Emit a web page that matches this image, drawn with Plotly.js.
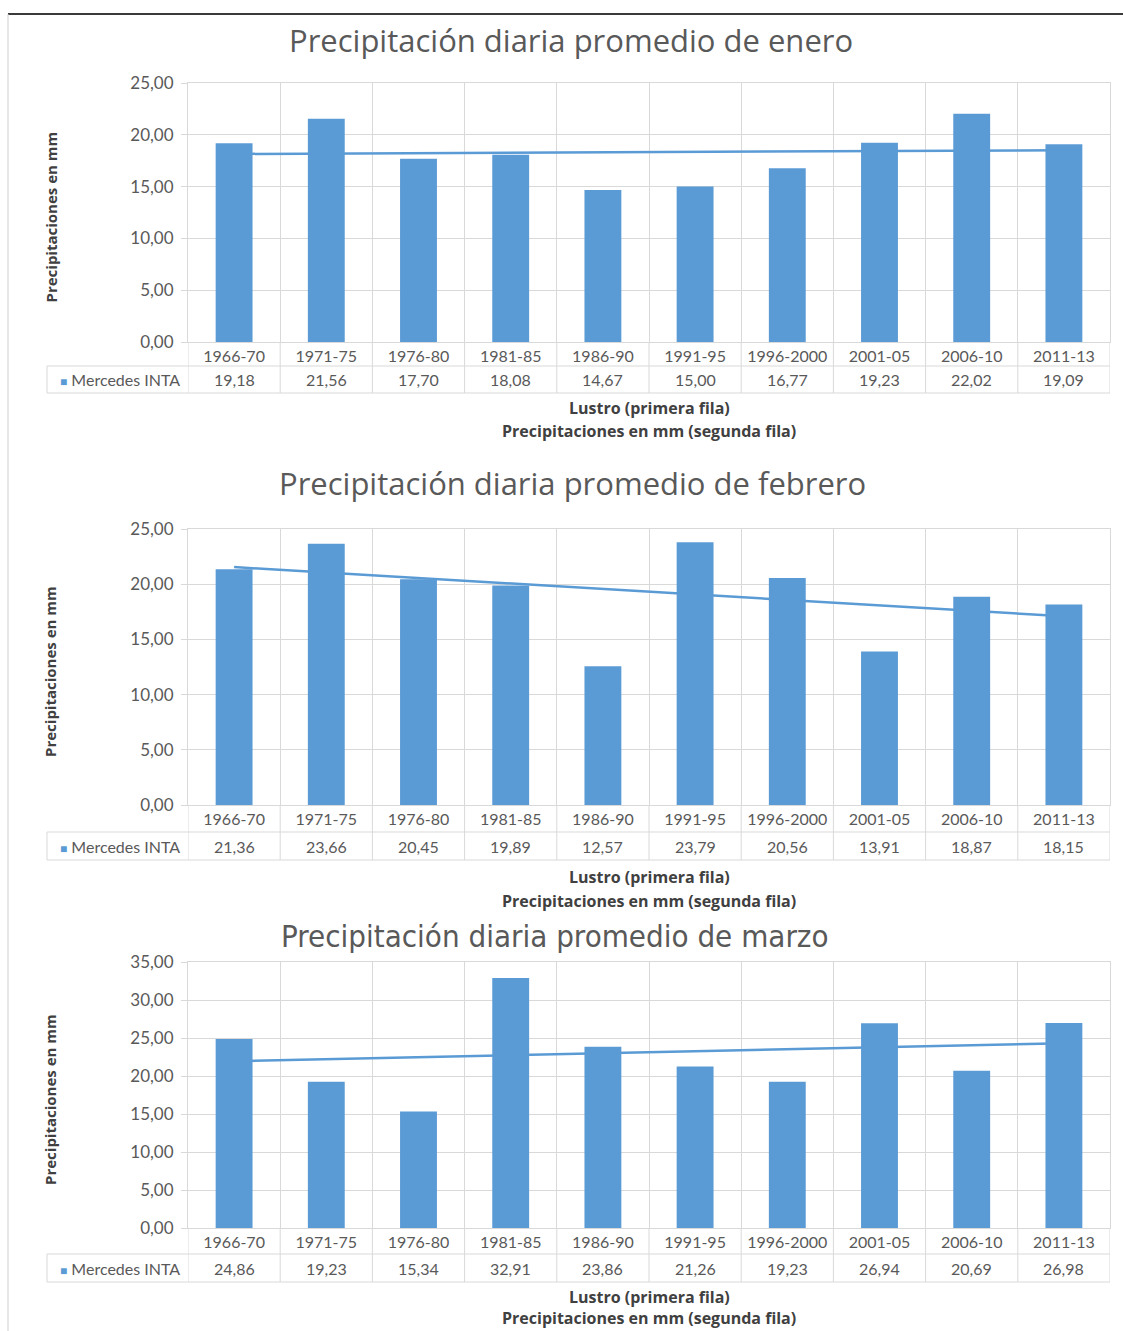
<!DOCTYPE html>
<html>
<head>
<meta charset="utf-8">
<script src="https://cdn.plot.ly/plotly-3.0.1.min.js"></script>
<style>html,body{margin:0;padding:0;background:#fff;}#chart{width:1123px;height:1331px;}</style>
</head>
<body>
<div id="chart"></div>
<script>
// ---- data ----
const categories = ['1966-70','1971-75','1976-80','1981-85','1986-90','1991-95','1996-2000','2001-05','2006-10','2011-13'];
const eneroValues   = [19.18, 21.56, 17.70, 18.08, 14.67, 15.00, 16.77, 19.23, 22.02, 19.09];
const febreroValues = [21.36, 23.66, 20.45, 19.89, 12.57, 23.79, 20.56, 13.91, 18.87, 18.15];
const marzoValues   = [24.86, 19.23, 15.34, 32.91, 23.86, 21.26, 19.23, 26.94, 20.69, 26.98];
// linear trend line end points (first and last lustro)
const eneroTrend   = [18.15, 18.51];
const febreroTrend = [21.55, 17.09];
const marzoTrend   = [21.94, 24.32];
const chartTitles = ['Precipitación diaria promedio de enero','Precipitación diaria promedio de febrero','Precipitación diaria promedio de marzo'];
const yMaxValues = [25, 25, 35];
const seriesName = 'Mercedes INTA';
const yAxisTitle = 'Precipitaciones en mm';
const xAxisTitleLine1 = 'Lustro (primera fila)';
const xAxisTitleLine2 = 'Precipitaciones en mm (segunda fila)';

// ---- layout geometry (pixels) ----
const W = 1123, H = 1331;
const PL = 188, PR = 1110, LEG = 47;
const geom = [
  {title: 40,  tx: 571, tfont: '"Open Sans", sans-serif', tsize: 31, top: 83,  bottom: 342,  row1: 366,  row2: 393,  xt1: 408,  xt2: 431},
  {title: 483, tx: 572, tfont: '"Open Sans", sans-serif', tsize: 31, top: 529, bottom: 805,  row1: 832,  row2: 860,  xt1: 877,  xt2: 901},
  {title: 936, tx: 555, tfont: '"DejaVu Sans Condensed", "Liberation Sans Narrow", Roboto, sans-serif', tsize: 31, top: 962, bottom: 1228, row1: 1254, row2: 1282, xt1: 1297, xt2: 1318}
];
const px = p => p / W;
const py = p => 1 - p / H;

const BLUE = '#5b9bd5', GRID = '#d9d9d9', TXT = '#595959', DARK = '#404040';
const FONT = 'Lato, "Open Sans", sans-serif';
const BOLDFONT = '"Open Sans", Lato, sans-serif';

const seriesList = [eneroValues, febreroValues, marzoValues];
const trendList = [eneroTrend, febreroTrend, marzoTrend];
const fmt = v => v.toFixed(2).replace('.', ',');

const traces = [];
const layout = {
  width: W, height: H,
  margin: {l: 0, r: 0, t: 0, b: 0},
  paper_bgcolor: '#fff', plot_bgcolor: 'rgba(0,0,0,0)',
  showlegend: false,
  bargap: 0.6,
  separators: ',.',
  font: {family: FONT, color: TXT, size: 15},
  shapes: [], annotations: []
};

// outer frame lines
layout.shapes.push({type: 'line', xref: 'paper', yref: 'paper', x0: px(8), x1: px(W), y0: py(14), y1: py(14), line: {color: '#3a3a3a', width: 2}});
layout.shapes.push({type: 'line', xref: 'paper', yref: 'paper', x0: px(8), x1: px(8), y0: py(14), y1: py(H), line: {color: '#cfcfcf', width: 1}});

geom.forEach((g, i) => {
  const n = i + 1;
  const xa = n === 1 ? 'x' : 'x' + n;
  const ya = n === 1 ? 'y' : 'y' + n;
  const yb = 'y' + (n + 3);
  const xKey = n === 1 ? 'xaxis' : 'xaxis' + n;
  const yKey = n === 1 ? 'yaxis' : 'yaxis' + n;
  const ybKey = 'yaxis' + (n + 3);
  const vals = seriesList[i];

  layout[xKey] = {
    domain: [px(PL), px(PR)], anchor: ya, type: 'category',
    categoryorder: 'array', categoryarray: categories,
    range: [-0.5, categories.length - 0.5], tickson: 'boundaries',
    showgrid: true, gridcolor: GRID, gridwidth: 1, ticks: '',
    showline: true, linecolor: GRID, linewidth: 1, mirror: true,
    tickfont: {family: FONT, size: 16, color: TXT}, fixedrange: true
  };
  layout[yKey] = {
    domain: [py(g.bottom), py(g.top)], anchor: xa,
    range: [0, yMaxValues[i]], dtick: 5, tick0: 0, tickformat: '.2f',
    showgrid: true, gridcolor: GRID, gridwidth: 1,
    zeroline: true, zerolinecolor: GRID, zerolinewidth: 1,
    ticks: 'outside', ticklen: 6, tickcolor: GRID, ticklabelstandoff: 4,
    showline: true, linecolor: GRID, mirror: true,
    tickfont: {family: FONT, size: 17, color: TXT}, fixedrange: true
  };
  layout[ybKey] = {
    overlaying: ya, anchor: xa, range: [0, yMaxValues[i]], visible: false, fixedrange: true
  };

  // trend line (below the bars)
  traces.push({
    type: 'scatter', mode: 'lines', xaxis: xa, yaxis: ya,
    x: [categories[0], categories[categories.length - 1]], y: trendList[i],
    line: {color: BLUE, width: 2.5}, hoverinfo: 'skip'
  });
  // bars
  traces.push({
    type: 'bar', xaxis: xa, yaxis: yb, name: seriesName,
    x: categories, y: vals, marker: {color: BLUE}
  });

  // chart title
  layout.annotations.push({
    xref: 'paper', yref: 'paper', x: px(g.tx), y: py(g.title), xanchor: 'center', yanchor: 'middle',
    text: chartTitles[i], showarrow: false,
    font: {family: g.tfont, size: g.tsize, color: TXT}
  });
  // y-axis title
  layout.annotations.push({
    xref: 'paper', yref: 'paper', x: px(50), y: py((g.top + g.bottom) / 2 + 5), xanchor: 'center', yanchor: 'middle',
    text: '<b>' + yAxisTitle + '</b>', textangle: -90, showarrow: false,
    font: {family: BOLDFONT, size: 15, color: DARK}
  });
  // x-axis titles
  layout.annotations.push({
    xref: 'paper', yref: 'paper', x: px((PL + PR) / 2), y: py(g.xt1), xanchor: 'center', yanchor: 'middle',
    text: '<b>' + xAxisTitleLine1 + '</b>', showarrow: false,
    font: {family: BOLDFONT, size: 16, color: DARK}
  });
  layout.annotations.push({
    xref: 'paper', yref: 'paper', x: px((PL + PR) / 2), y: py(g.xt2), xanchor: 'center', yanchor: 'middle',
    text: '<b>' + xAxisTitleLine2 + '</b>', showarrow: false,
    font: {family: BOLDFONT, size: 16, color: DARK}
  });

  // data table: values row
  categories.forEach((c, k) => {
    layout.annotations.push({
      xref: xa, yref: 'paper', x: c, y: py((g.row1 + g.row2) / 2), xanchor: 'center', yanchor: 'middle',
      text: fmt(vals[k]), showarrow: false, font: {family: FONT, size: 16, color: TXT}
    });
  });
  // legend cell
  layout.annotations.push({
    xref: 'paper', yref: 'paper', x: px((LEG + PL) / 2 + 2), y: py((g.row1 + g.row2) / 2), xanchor: 'center', yanchor: 'middle',
    text: '<span style="color:' + BLUE + ';font-size:12px">■</span> ' + seriesName, showarrow: false,
    font: {family: FONT, size: 16, color: TXT}
  });

  // table grid lines
  for (let k = 0; k <= categories.length; k++) {
    layout.shapes.push({type: 'line', xref: xa, yref: 'paper', x0: k - 0.5, x1: k - 0.5,
      y0: py(g.bottom), y1: py(g.row2), line: {color: GRID, width: 1}});
  }
  [g.row1, g.row2].forEach(r => {
    layout.shapes.push({type: 'line', xref: 'paper', yref: 'paper', x0: px(LEG), x1: px(PR),
      y0: py(r), y1: py(r), line: {color: GRID, width: 1}});
  });
  layout.shapes.push({type: 'line', xref: 'paper', yref: 'paper', x0: px(LEG), x1: px(LEG),
    y0: py(g.row1), y1: py(g.row2), line: {color: GRID, width: 1}});
});

Plotly.newPlot('chart', traces, layout, {displayModeBar: false, staticPlot: true});
</script>
</body>
</html>
